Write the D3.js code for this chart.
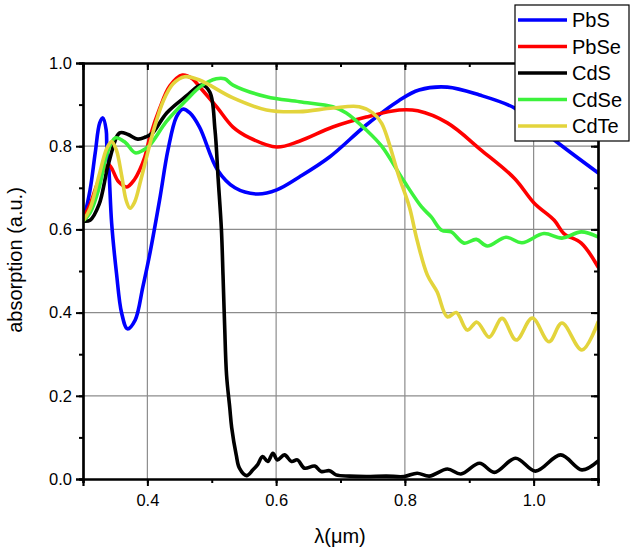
<!DOCTYPE html>
<html><head><meta charset="utf-8">
<script src="https://cdnjs.cloudflare.com/ajax/libs/d3/7.8.5/d3.min.js"></script>
<style>
body{margin:0;background:#fff;}
text{font-family:"Liberation Sans",Arial,sans-serif;}
</style></head>
<body><svg id="c" width="635" height="555"></svg>
<script>
const seriesNames = ["PbS","PbSe","CdS","CdSe","CdTe"];
const seriesColors = ["#0000ff","#ff0000","#000000","#3cf23c","#e3d43c"];
const xTickValues = [0.4,0.6,0.8,1.0];
const yTickValues = [0.0,0.2,0.4,0.6,0.8,1.0];

const PbS = [[0.300,0.627],[0.303,0.639],[0.311,0.695],[0.319,0.784],[0.326,0.856],[0.331,0.868],[0.336,0.839],[0.337,0.80],[0.340,0.75],[0.3445,0.615],[0.352,0.495],[0.360,0.399],[0.369,0.361],[0.381,0.382],[0.393,0.462],[0.404,0.543],[0.419,0.671],[0.432,0.791],[0.445,0.870],[0.455,0.889],[0.466,0.880],[0.481,0.846],[0.509,0.743],[0.536,0.700],[0.571,0.685],[0.601,0.695],[0.636,0.726],[0.683,0.774],[0.740,0.851],[0.791,0.910],[0.822,0.935],[0.866,0.942],[0.916,0.923],[0.970,0.892],[1.000,0.855],[1.036,0.810],[1.100,0.736]];

const PbSe = [[0.300,0.625],[0.311,0.660],[0.325,0.720],[0.340,0.755],[0.355,0.715],[0.368,0.702],[0.380,0.720],[0.388,0.743],[0.396,0.774],[0.404,0.822],[0.419,0.890],[0.435,0.945],[0.4545,0.971],[0.470,0.962],[0.481,0.943],[0.508,0.894],[0.533,0.846],[0.559,0.820],[0.601,0.798],[0.636,0.812],[0.688,0.846],[0.740,0.870],[0.791,0.887],[0.820,0.885],[0.866,0.856],[0.919,0.790],[0.970,0.723],[1.001,0.663],[1.032,0.622],[1.047,0.590],[1.074,0.567],[1.100,0.510]];

const CdS = [[0.300,0.620],[0.311,0.622],[0.325,0.660],[0.340,0.760],[0.357,0.832],[0.370,0.828],[0.385,0.817],[0.397,0.822],[0.407,0.830],[0.430,0.880],[0.460,0.920],[0.484,0.947],[0.497,0.930],[0.505,0.840],[0.510,0.720],[0.515,0.600],[0.5175,0.490],[0.520,0.370],[0.523,0.250],[0.528,0.171],[0.531,0.123],[0.538,0.058],[0.543,0.026],[0.554,0.008],[0.564,0.022],[0.571,0.034],[0.579,0.054],[0.587,0.042],[0.595,0.062],[0.602,0.046],[0.613,0.058],[0.624,0.042],[0.633,0.046],[0.644,0.026],[0.660,0.031],[0.670,0.018],[0.683,0.020],[0.693,0.010],[0.714,0.007],[0.740,0.006],[0.771,0.007],[0.799,0.006],[0.819,0.014],[0.838,0.007],[0.866,0.024],[0.887,0.012],[0.916,0.038],[0.939,0.016],[0.972,0.050],[1.003,0.019],[1.042,0.058],[1.075,0.022],[1.100,0.043]];

const CdSe = [[0.300,0.620],[0.311,0.640],[0.325,0.700],[0.337,0.780],[0.350,0.820],[0.365,0.810],[0.381,0.784],[0.393,0.790],[0.404,0.803],[0.430,0.860],[0.460,0.910],[0.484,0.945],[0.507,0.962],[0.520,0.962],[0.533,0.947],[0.585,0.919],[0.636,0.907],[0.688,0.895],[0.709,0.880],[0.740,0.839],[0.764,0.800],[0.799,0.715],[0.826,0.654],[0.841,0.630],[0.857,0.598],[0.872,0.594],[0.892,0.567],[0.911,0.576],[0.928,0.560],[0.957,0.581],[0.982,0.568],[1.016,0.590],[1.044,0.579],[1.074,0.594],[1.100,0.582]];

const CdTe = [[0.300,0.620],[0.311,0.650],[0.325,0.730],[0.337,0.795],[0.3445,0.811],[0.352,0.790],[0.360,0.730],[0.367,0.670],[0.373,0.651],[0.380,0.665],[0.390,0.720],[0.399,0.775],[0.410,0.840],[0.425,0.910],[0.440,0.950],[0.458,0.967],[0.481,0.959],[0.533,0.916],[0.585,0.887],[0.636,0.883],[0.688,0.892],[0.729,0.895],[0.750,0.880],[0.764,0.855],[0.791,0.726],[0.807,0.654],[0.819,0.574],[0.835,0.490],[0.850,0.450],[0.866,0.390],[0.880,0.400],[0.897,0.358],[0.912,0.377],[0.931,0.341],[0.951,0.386],[0.973,0.334],[0.998,0.387],[1.024,0.330],[1.044,0.375],[1.075,0.310],[1.100,0.377]];

const allSeries = [PbS, PbSe, CdS, CdSe, CdTe];

const svg = d3.select("#c");
const L=83, R=598, T=63, B=479;
const x = d3.scaleLinear().domain([0.3,1.1]).range([L,R]);
const y = d3.scaleLinear().domain([0,1.0]).range([B,T]);

// grid
const g = svg.append("g");
g.selectAll(".gx").data(xTickValues).enter().append("line")
 .attr("x1",d=>x(d)).attr("x2",d=>x(d)).attr("y1",T).attr("y2",B)
 .attr("stroke","#8c8c8c").attr("stroke-width",1.2);
g.selectAll(".gy").data(yTickValues.filter(v=>v>0&&v<1)).enter().append("line")
 .attr("y1",d=>y(d)).attr("y2",d=>y(d)).attr("x1",L).attr("x2",R)
 .attr("stroke","#8c8c8c").attr("stroke-width",1.2);

// curves
svg.append("clipPath").attr("id","clip").append("rect").attr("x",L).attr("y",T-5).attr("width",R-L).attr("height",B-T+5);
const line = d3.line().x(d=>x(d[0])).y(d=>y(d[1])).curve(d3.curveCatmullRom.alpha(0.5));
const cg = svg.append("g").attr("clip-path","url(#clip)");
allSeries.forEach((s,i)=>{
  cg.append("path").datum(s).attr("d",line).attr("fill","none")
   .attr("stroke",seriesColors[i]).attr("stroke-width",3.6)
   .attr("stroke-linejoin","round").attr("stroke-linecap","round");
});

// axes
const xMinor = d3.range(0.3,1.1001,0.1);
const yMinor = d3.range(0,1.0001,0.1);
const fmt = d3.format(".1f");
const axB = d3.axisBottom(x).tickValues(xTickValues).tickFormat(fmt).tickSize(7).tickPadding(8);
const axBm = d3.axisBottom(x).tickValues(xMinor).tickFormat("").tickSize(4);
const axL = d3.axisLeft(y).tickValues(yTickValues).tickFormat(fmt).tickSize(7).tickPadding(4);
const axLm = d3.axisLeft(y).tickValues(yMinor).tickFormat("").tickSize(4);
const axT = d3.axisBottom(x).tickValues(xTickValues).tickFormat("").tickSize(7);
const axTm = d3.axisBottom(x).tickValues(xMinor).tickFormat("").tickSize(4);
const axR = d3.axisLeft(y).tickValues(yTickValues).tickFormat("").tickSize(7);
const axRm = d3.axisLeft(y).tickValues(yMinor).tickFormat("").tickSize(4);

function style(sel){
  sel.selectAll("path").attr("stroke","#000").attr("stroke-width",2.2);
  sel.selectAll("line").attr("stroke","#000").attr("stroke-width",2);
  sel.selectAll("text").attr("font-size",16.5).attr("fill","#000").attr("font-family","Liberation Sans, Arial, sans-serif");
}
svg.append("g").attr("transform",`translate(0,${B})`).call(axBm).call(style);
svg.append("g").attr("transform",`translate(0,${B})`).call(axB).call(style);
svg.append("g").attr("transform",`translate(${L},0)`).call(axLm).call(style);
svg.append("g").attr("transform",`translate(${L},0)`).call(axL).call(style);
svg.append("g").attr("transform",`translate(0,${T})`).call(axTm).call(style);
svg.append("g").attr("transform",`translate(0,${T})`).call(axT).call(style);
svg.append("g").attr("transform",`translate(${R},0)`).call(axRm).call(style);
svg.append("g").attr("transform",`translate(${R},0)`).call(axR).call(style);

// titles
svg.append("text").attr("x",340).attr("y",543).attr("text-anchor","middle")
 .attr("font-size",20).text("λ(μm)");
svg.append("text").attr("transform",`translate(22,260) rotate(-90)`).attr("text-anchor","middle")
 .attr("font-size",20).text("absorption (a.u.)");

// legend
const lg = svg.append("g");
lg.append("rect").attr("x",515).attr("y",5).attr("width",114).attr("height",136)
 .attr("fill","#fff").attr("stroke","#000").attr("stroke-width",1.2);
seriesNames.forEach((n,i)=>{
  const yy = 20 + i*26.5;
  lg.append("line").attr("x1",518).attr("x2",567).attr("y1",yy).attr("y2",yy)
   .attr("stroke",seriesColors[i]).attr("stroke-width",3.6);
  lg.append("text").attr("x",572).attr("y",yy+7).attr("font-size",20).text(n);
});
</script></body></html>
